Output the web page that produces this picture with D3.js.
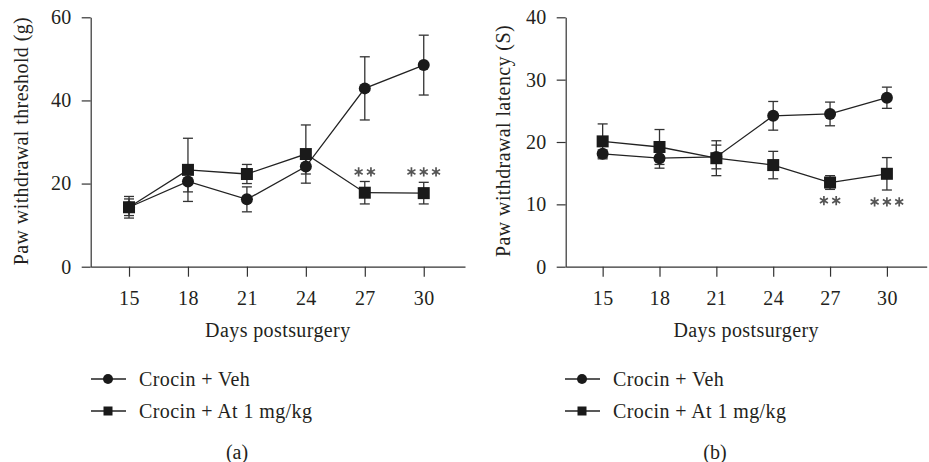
<!DOCTYPE html>
<html lang="en">
<head>
  <meta charset="UTF-8">
  <title>Paw withdrawal threshold and latency</title>
  <script src="https://d3js.org/d3.v7.min.js"></script>
  <style>
    body { margin: 0; background: #fff; }
    text { font-family: "Liberation Serif", "Times New Roman", serif; fill: #231f20; }
  </style>
</head>
<body>
  <div id="my_dataviz"></div>
  <script>
    // Hard-coded data
    var days = [15, 18, 21, 24, 27, 30];
    var seriesNames = ["Crocin + Veh", "Crocin + At 1 mg/kg"];

    // (a) paw withdrawal threshold (g)
    var threshVeh    = [14.3, 20.5, 16.2, 24.1, 42.9, 48.5];
    var threshVehErr = [2.0, 2.5, 3.0, 1.8, 7.6, 7.2];
    var threshAt     = [14.3, 23.3, 22.3, 27.1, 17.8, 17.7];
    var threshAtErr  = [2.6, 7.6, 2.3, 7.0, 2.7, 2.6];
    var threshTicks  = [0, 20, 40, 60];
    var threshStars  = [{day: 27, n: 2, value: 22.8}, {day: 30, n: 3, value: 22.8}];

    // (b) paw withdrawal latency (S)
    var latVeh    = [18.1, 17.4, 17.6, 24.2, 24.5, 27.1];
    var latVehErr = [0.6, 1.6, 1.9, 2.3, 1.9, 1.7];
    var latAt     = [20.1, 19.2, 17.4, 16.3, 13.5, 14.9];
    var latAtErr  = [2.8, 2.8, 2.8, 2.2, 1.1, 2.6];
    var latTicks  = [0, 10, 20, 30, 40];
    var latStars  = [{day: 27, n: 2, value: 10.6}, {day: 30, n: 3, value: 10.4}];

    var W = 929, H = 462;
    var svg = d3.select("#my_dataviz")
      .append("svg")
        .attr("width", W)
        .attr("height", H);

    var ink = "#231f20";
    var fs = "20px", ls = "0.4px";

    function drawPanel(p) {
      var x = d3.scaleLinear().domain([13.05, 32.1]).range([p.left, p.right]);
      var y = d3.scaleLinear().domain([0, p.yMax]).range([266.7, 17.3]);

      var g = svg.append("g");

      // axes
      var xAxis = g.append("g")
        .attr("transform", "translate(0,266.7)")
        .call(d3.axisBottom(x).tickValues(days).tickSize(10).tickSizeOuter(0).tickPadding(14));
      var yAxis = g.append("g")
        .attr("transform", "translate(" + p.left + ",0)")
        .call(d3.axisLeft(y).tickValues(p.ticks).tickSize(9).tickSizeOuter(0).tickPadding(10));
      [xAxis, yAxis].forEach(function(a) {
        a.selectAll("path, line").attr("stroke", "#333").attr("stroke-width", 1.2);
        a.selectAll("text").style("font-size", fs).style("letter-spacing", ls)
          .style("font-family", "Liberation Serif").attr("fill", ink);
      });

      // axis titles
      g.append("text")
        .attr("x", (p.left + p.right) / 2)
        .attr("y", 330)
        .attr("dy", "0.35em")
        .attr("text-anchor", "middle")
        .style("font-size", fs).style("letter-spacing", ls)
        .text("Days postsurgery");
      g.append("text")
        .attr("transform", "translate(" + p.yLabelX + ",141) rotate(-90)")
        .attr("text-anchor", "middle")
        .attr("dy", "0.35em")
        .style("font-size", fs).style("letter-spacing", ls)
        .text(p.yLabel);

      var series = [
        {vals: p.veh, err: p.vehErr, shape: "circle"},
        {vals: p.at, err: p.atErr, shape: "square"}
      ];

      var line = d3.line()
        .x(function(d, i) { return x(days[i]); })
        .y(function(d) { return y(d); });

      series.forEach(function(s) {
        g.append("path")
          .datum(s.vals)
          .attr("fill", "none")
          .attr("stroke", "#222")
          .attr("stroke-width", 1.3)
          .attr("d", line);
      });

      // error bars
      series.forEach(function(s) {
        var eb = g.append("g").attr("stroke", "#333").attr("stroke-width", 1.3);
        s.vals.forEach(function(v, i) {
          var cx = x(days[i]);
          var y0 = y(v - s.err[i]), y1 = y(v + s.err[i]);
          eb.append("line").attr("x1", cx).attr("x2", cx).attr("y1", y0).attr("y2", y1);
          eb.append("line").attr("x1", cx - 5).attr("x2", cx + 5).attr("y1", y0).attr("y2", y0);
          eb.append("line").attr("x1", cx - 5).attr("x2", cx + 5).attr("y1", y1).attr("y2", y1);
        });
      });

      // markers
      series.forEach(function(s) {
        if (s.shape === "circle") {
          g.selectAll(null).data(s.vals).enter().append("circle")
            .attr("cx", function(d, i) { return x(days[i]); })
            .attr("cy", function(d) { return y(d); })
            .attr("r", 6)
            .attr("fill", "#1a1a1a");
        } else {
          g.selectAll(null).data(s.vals).enter().append("rect")
            .attr("x", function(d, i) { return x(days[i]) - 6; })
            .attr("y", function(d) { return y(d) - 6; })
            .attr("width", 12)
            .attr("height", 12)
            .attr("fill", "#1a1a1a");
        }
      });

      // significance stars
      var star = d3.symbol().type(d3.symbolAsterisk).size(60);
      p.stars.forEach(function(st) {
        for (var k = 0; k < st.n; k++) {
          var sx = x(st.day) + (k - (st.n - 1) / 2) * 12.3;
          g.append("path")
            .attr("d", star)
            .attr("transform", "translate(" + sx + "," + y(st.value) + ")")
            .attr("fill", "none")
            .attr("stroke", "#555")
            .attr("stroke-width", 1.7);
        }
      });

      // legend
      var lg = g.append("g");
      [379, 411].forEach(function(ly, i) {
        lg.append("line")
          .attr("x1", p.legendX).attr("x2", p.legendX + 35)
          .attr("y1", ly).attr("y2", ly)
          .attr("stroke", "#222").attr("stroke-width", 1.3);
        if (i === 0) {
          lg.append("circle").attr("cx", p.legendX + 17).attr("cy", ly).attr("r", 5).attr("fill", "#1a1a1a");
        } else {
          lg.append("rect").attr("x", p.legendX + 12.5).attr("y", ly - 4.5).attr("width", 9).attr("height", 9).attr("fill", "#1a1a1a");
        }
        lg.append("text")
          .attr("x", p.legendX + 48)
          .attr("y", ly)
          .attr("dy", "0.35em")
          .style("font-size", fs).style("letter-spacing", ls)
          .text(seriesNames[i]);
      });

      g.append("text")
        .attr("x", p.captionX)
        .attr("y", 452)
        .attr("dy", "0.35em")
        .attr("text-anchor", "middle")
        .style("font-size", fs)
        .text(p.caption);
    }

    drawPanel({
      left: 90.7, right: 465, yMax: 60, ticks: threshTicks,
      veh: threshVeh, vehErr: threshVehErr, at: threshAt, atErr: threshAtErr,
      stars: threshStars, yLabel: "Paw withdrawal threshold (g)", yLabelX: 21,
      legendX: 91, captionX: 237, caption: "(a)"
    });
    drawPanel({
      left: 565.7, right: 926.7, yMax: 40, ticks: latTicks,
      veh: latVeh, vehErr: latVehErr, at: latAt, atErr: latAtErr,
      stars: latStars, yLabel: "Paw withdrawal latency (S)", yLabelX: 503,
      legendX: 565, captionX: 715, caption: "(b)"
    });
  </script>
</body>
</html>
